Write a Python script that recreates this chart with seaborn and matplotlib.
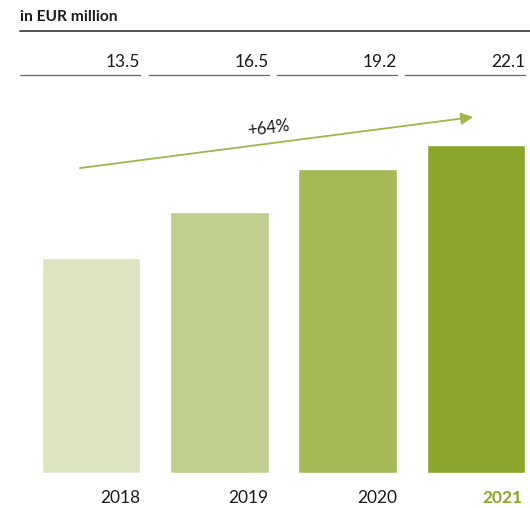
import matplotlib
matplotlib.use("Agg")
import matplotlib.pyplot as plt
import seaborn as sns

years = ["2018", "2019", "2020", "2021"]
values = [13.5, 16.5, 19.2, 22.1]
# bar heights as drawn in the reference (not strictly to scale)
bar_heights = [13.5, 16.4, 19.1, 20.6]
colors = ["#dde4c0", "#c0cf8d", "#a4b956", "#8ba62a"]
growth_label = "+64%"
unit_label = "in EUR million"

sns.set_style("white")
plt.rcParams['font.family'] = ['Lato', 'DejaVu Sans']

fig = plt.figure(figsize=(5.30, 5.08), dpi=100)
ax = fig.add_axes([0, 0, 1, 1])

bar_w = 0.77
sns.barplot(x=years, y=bar_heights, hue=years, palette=colors,
            width=bar_w, legend=False, ax=ax, saturation=1)

ax.set_xlim(-0.709, 3.421)
ax.set_ylim(-2.2, 29.75)
ax.axis("off")

text_col = "#1a1a1a"
line_col = "#333333"

# header
ax.text(-0.553, 28.65, unit_label, ha="left", va="center",
        fontsize=11.2, fontweight="bold", color=text_col)
ax.plot([-0.553, 3.421], [27.8, 27.8], color=line_col, lw=1.2)

# value row with underlines
for i, v in enumerate(values):
    right = i + bar_w / 2
    ax.text(right, 25.85, f"{v:.1f}", ha="right", va="center",
            fontsize=12.5, color=text_col)
    ax.plot([right - 0.935, right], [25.03, 25.03], color="#666666", lw=0.9)

# year labels
for i, y in enumerate(years):
    last = i == len(years) - 1
    ax.text(i + bar_w / 2 - (0.02 if last else 0), -1.57, y, ha="right", va="center",
            fontsize=12.5, fontweight="bold" if last else "normal",
            color=colors[-1] if last else text_col)

# growth arrow
ax.annotate("", xy=(2.977, 22.39), xytext=(-0.086, 19.18),
            arrowprops=dict(arrowstyle="-|>", color="#9cb84a", lw=1.3,
                            mutation_scale=18, shrinkA=0, shrinkB=0))
ax.text(1.38, 21.7, growth_label, ha="center", va="center", rotation=7.4,
        fontsize=12, color=text_col)

fig.savefig("out.png", dpi=100)
